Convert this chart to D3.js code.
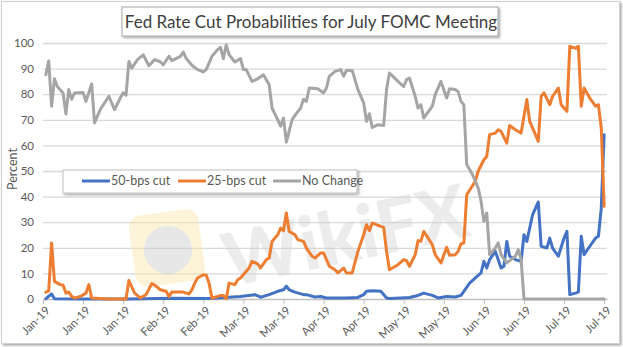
<!DOCTYPE html>
<html>
<head>
<meta charset="utf-8">
<script src="https://cdn.jsdelivr.net/npm/d3@7"></script>
<style>
  body { margin: 0; background: #fff; }
  svg { display: block; font-family: Lato, "Open Sans", sans-serif; }
</style>
</head>
<body>
<svg id="chart" width="623" height="347"></svg>
<script>
/// data ///
// probabilities (percent) for the July meeting outcome, by date
const cut50 = [
  ["01-02", 0.1], ["01-04", 2], ["01-05", 0.1], ["01-16", 0], ["01-31", 0], ["02-15", 0.3],
  ["02-28", 0.2], ["03-11", 1], ["03-16", 1.7], ["03-18", 0.7], ["03-21", 1.7], ["03-24", 3],
  ["03-26", 3.6], ["03-27", 5], ["03-28", 3.6], ["03-30", 2.7], ["04-02", 1.7], ["04-03", 1.7],
  ["04-06", 0.8], ["04-08", 1], ["04-10", 0.4], ["04-17", 0.4], ["04-21", 0.6], ["04-23", 1.7],
  ["04-24", 3], ["04-26", 3.2], ["04-29", 3], ["05-01", 0.4], ["05-02", 0.2], ["05-06", 0.4],
  ["05-09", 0.6], ["05-12", 1.4], ["05-14", 2.3], ["05-17", 1.4], ["05-19", 0.4], ["05-22", 1],
  ["05-25", 0.8], ["05-27", 1.4], ["05-28", 3], ["05-30", 6.2], ["06-02", 9.2], ["06-03", 10.2],
  ["06-04", 14.7], ["06-05", 12.1], ["06-06", 15.4], ["06-08", 18.6], ["06-10", 12.1], ["06-11", 12.8],
  ["06-12", 22.5], ["06-13", 16.7], ["06-15", 15.4], ["06-17", 14.7], ["06-18", 25.1], ["06-19", 22.5],
  ["06-20", 27.7], ["06-21", 32.9], ["06-23", 37.9], ["06-24", 20.6], ["06-26", 19.9], ["06-27", 23.8],
  ["06-28", 19.9], ["06-30", 16.7], ["07-02", 23.8], ["07-03", 26.4], ["07-04", 1.7], ["07-06", 2.3],
  ["07-07", 2.7], ["07-08", 24.5], ["07-09", 17.3], ["07-11", 20.6], ["07-13", 23.8], ["07-14", 24.5],
  ["07-15", 35.5], ["07-16", 64.2]
];

const cut25 = [
  ["01-02", 2.7], ["01-03", 3.2], ["01-04", 21.9], ["01-05", 6.9], ["01-07", 5.6], ["01-08", 5.5],
  ["01-09", 2.3], ["01-10", 2.7], ["01-11", 1], ["01-12", 0.4], ["01-14", 1], ["01-16", 2.3],
  ["01-17", 5.6], ["01-18", 0.4], ["01-24", 0], ["01-30", 0], ["01-31", 7.2], ["02-02", 2.3],
  ["02-04", 0.4], ["02-06", 1.7], ["02-08", 6], ["02-09", 5.4], ["02-11", 3.6], ["02-13", 3],
  ["02-14", 1], ["02-15", 2.7], ["02-19", 2.7], ["02-20", 2.3], ["02-21", 2], ["02-22", 3.6],
  ["02-23", 6.2], ["02-24", 8.2], ["02-26", 9.5], ["02-27", 9.4], ["02-28", 6.2], ["03-01", 0.4],
  ["03-03", 1], ["03-04", 1.4], ["03-05", 1.4], ["03-06", 0.1], ["03-07", 6.2], ["03-09", 5.6],
  ["03-10", 7.5], ["03-11", 8.2], ["03-13", 10.8], ["03-14", 12.1], ["03-15", 14.7], ["03-17", 13.7],
  ["03-18", 12.1], ["03-20", 15.4], ["03-21", 16], ["03-22", 22.5], ["03-24", 25.1], ["03-25", 27.7],
  ["03-26", 26.7], ["03-27", 33.6], ["03-28", 26.4], ["03-30", 25.1], ["03-31", 23.2], ["04-02", 22.5],
  ["04-03", 19.9], ["04-05", 16.7], ["04-06", 16], ["04-08", 18], ["04-09", 18], ["04-11", 12.8],
  ["04-13", 11.4], ["04-14", 10.2], ["04-16", 12.1], ["04-17", 10.2], ["04-19", 10.2], ["04-21", 18.6],
  ["04-23", 25.1], ["04-24", 29], ["04-25", 26.7], ["04-26", 29.7], ["04-28", 28.8], ["04-29", 28.4],
  ["04-30", 28], ["05-01", 18.6], ["05-02", 11.4], ["05-05", 13.4], ["05-07", 15.4], ["05-08", 15],
  ["05-09", 12.8], ["05-11", 17.3], ["05-12", 22.8], ["05-13", 22.5], ["05-14", 26.4], ["05-17", 21.2],
  ["05-18", 17.3], ["05-20", 14.1], ["05-22", 20.2], ["05-23", 17.1], ["05-25", 17.3], ["05-26", 18.6],
  ["05-27", 21.5], ["05-28", 21.9], ["05-29", 40.7], ["06-01", 46], ["06-02", 49.9], ["06-04", 54.4],
  ["06-05", 55.7], ["06-06", 64.2], ["06-08", 64.8], ["06-09", 66.1], ["06-10", 65.5], ["06-12", 60.9],
  ["06-13", 67.8], ["06-15", 66.1], ["06-17", 64.8], ["06-19", 77.9], ["06-20", 69.4], ["06-23", 61.6],
  ["06-24", 79.2], ["06-25", 80.5], ["06-27", 75.9], ["06-28", 79.2], ["06-30", 82.4], ["07-01", 75.9],
  ["07-03", 73.3], ["07-04", 98.7], ["07-06", 98], ["07-07", 98.7], ["07-08", 75.3], ["07-09", 82.4],
  ["07-11", 78.5], ["07-13", 75.3], ["07-14", 75.9], ["07-15", 66.8], ["07-16", 36.2]
];

const noChange = [
  ["01-02", 87.6], ["01-03", 93], ["01-04", 75.3], ["01-05", 86], ["01-06", 83], ["01-08", 80.5],
  ["01-09", 72.3], ["01-10", 81.8], ["01-11", 78], ["01-12", 80.5], ["01-15", 80.7], ["01-16", 77.2],
  ["01-18", 84], ["01-19", 68.8], ["01-21", 74], ["01-24", 79.2], ["01-26", 74], ["01-28", 78.5],
  ["01-29", 80.5], ["01-30", 79.6], ["01-31", 92.8], ["02-01", 90.2], ["02-03", 93.5], ["02-05", 95.4],
  ["02-07", 91.1], ["02-09", 93.5], ["02-11", 92.6], ["02-12", 91.5], ["02-14", 94.8], ["02-15", 93.1],
  ["02-18", 94.8], ["02-19", 96.5], ["02-20", 94], ["02-22", 91.3], ["02-24", 89.6], ["02-26", 88.7],
  ["02-27", 89.6], ["03-01", 94.8], ["03-03", 97.4], ["03-04", 98.3], ["03-05", 93.9], ["03-06", 99.3],
  ["03-07", 95.4], ["03-09", 92.6], ["03-11", 93.9], ["03-12", 89.6], ["03-13", 89.6], ["03-15", 85],
  ["03-17", 86], ["03-19", 87.6], ["03-21", 83.7], ["03-22", 74.6], ["03-24", 70], ["03-25", 67.5],
  ["03-26", 70.7], ["03-27", 61.3], ["03-29", 70], ["03-30", 71.7], ["04-01", 74.6], ["04-02", 78],
  ["04-03", 77.2], ["04-04", 82.4], ["04-07", 82.1], ["04-09", 80.5], ["04-10", 82.4], ["04-11", 87],
  ["04-13", 88.9], ["04-15", 89.6], ["04-16", 87], ["04-17", 89.3], ["04-19", 89.3], ["04-21", 81.8],
  ["04-23", 76.6], ["04-24", 69.4], ["04-25", 72.3], ["04-26", 67], ["04-28", 68.1], ["04-30", 67.8],
  ["05-01", 81.8], ["05-02", 88.3], ["05-05", 85], ["05-07", 83], ["05-08", 85.7], ["05-09", 86.3],
  ["05-11", 79.2], ["05-12", 74.6], ["05-13", 75.9], ["05-14", 70.7], ["05-17", 75.3], ["05-18", 79.8],
  ["05-20", 85], ["05-22", 78.5], ["05-23", 82.1], ["05-25", 81.8], ["05-26", 81], ["05-27", 77.2],
  ["05-28", 75.9], ["05-29", 52.5], ["05-31", 48.6], ["06-02", 43.4], ["06-03", 38.2], ["06-04", 30.4],
  ["06-05", 33.6], ["06-06", 17.3], ["06-08", 19.9], ["06-09", 21.9], ["06-10", 17.3], ["06-12", 14.1],
  ["06-15", 16.7], ["06-16", 19.3], ["06-17", 15.4], ["06-18", 0], ["06-25", 0], ["07-02", 0],
  ["07-09", 0], ["07-16", 0]
];

const seriesNames = ["50-bps cut", "25-bps cut", "No Change"];
const yTicks = [0, 10, 20, 30, 40, 50, 60, 70, 80, 90, 100];
const xTicks = ["01-01", "01-15", "01-29", "02-12", "02-26", "03-12", "03-26", "04-09",
  "04-23", "05-07", "05-21", "06-04", "06-18", "07-02", "07-16"];

/// constants ///
const width = 623;
const height = 347;
const margin = {top: 43, bottom: 48, right: 16, left: 43};
const colours = ["#4472c4", "#ed7d31", "#a5a5a5"];
const gridColour = "#d9d9d9";
const textColour = "#595959";

const parseDate = s => d3.timeParse("%Y-%m-%d")("2019-" + s);

const series = [cut50, cut25, noChange].map((rows, i) => ({
  name: seriesNames[i],
  colour: colours[i],
  values: rows.map(([d, v]) => ({date: parseDate(d), value: v}))
}));

const svg = d3.select("#chart");

// soft shadow used by the frame, title and legend boxes
const defs = svg.append("defs");
const shadow = defs.append("filter").attr("id", "shadow")
  .attr("x", "-10%").attr("y", "-20%").attr("width", "130%").attr("height", "160%");
shadow.append("feDropShadow")
  .attr("dx", 1.5).attr("dy", 1.5).attr("stdDeviation", 1.3)
  .attr("flood-color", "#000").attr("flood-opacity", 0.35);

// outer chart frame
svg.append("rect")
  .attr("x", 1.5).attr("y", 1.5)
  .attr("width", width - 5).attr("height", height - 5)
  .attr("fill", "#fff")
  .attr("stroke", "#d0d0d0")
  .attr("filter", "url(#shadow)");

/// scales ///
const x = d3.scaleTime()
  .domain([parseDate("01-01"), parseDate("07-17")])
  .range([margin.left, width - margin.right]);

const y = d3.scaleLinear()
  .domain([0, 100])
  .range([height - margin.bottom, margin.top]);

/// gridlines ///
svg.append("g")
  .selectAll("line")
  .data(yTicks.filter(d => d > 0))
  .join("line")
    .attr("x1", margin.left)
    .attr("x2", width - margin.right)
    .attr("y1", d => y(d) + 0.5)
    .attr("y2", d => y(d) + 0.5)
    .attr("stroke", gridColour)
    .attr("stroke-width", 1.3);

/// watermark ///
const mark = svg.append("g").attr("opacity", 0.4);
mark.append("rect")
  .attr("x", 132).attr("y", 212).attr("width", 70).attr("height", 72).attr("rx", 12)
  .attr("fill", "#fbe3a0")
  .attr("transform", "rotate(-8, 167, 248)");
mark.append("circle")
  .attr("cx", 168).attr("cy", 250).attr("r", 24)
  .attr("fill", "#c4c4c4");
mark.append("text")
  .attr("x", 345).attr("y", 262)
  .attr("text-anchor", "middle")
  .attr("font-size", 74)
  .attr("font-weight", 900)
  .attr("fill", "#d0d0d0")
  .attr("transform", "rotate(-12, 345, 235)")
  .text("WikiFX");

/// axes ///
// y axis: labels only
const yAxis = g => g
  .attr("transform", `translate(${margin.left}, 0)`)
  .call(d3.axisLeft(y).tickValues(yTicks).tickSize(0).tickPadding(9))
  .call(g => g.select(".domain").remove())
  .call(g => g.selectAll("text")
    .attr("fill", textColour)
    .attr("font-size", "11.5px")
    .attr("font-family", "Lato, sans-serif"));

// x axis: dates every two weeks, rotated labels
const xAxis = g => g
  .attr("transform", `translate(0, ${y(0)})`)
  .call(d3.axisBottom(x)
    .tickValues(xTicks.map(parseDate))
    .tickFormat(d3.timeFormat("%b-%y"))
    .tickSize(5)
    .tickSizeOuter(0))
  .call(g => g.select(".domain").attr("stroke", "#bfbfbf").attr("stroke-width", 1.3))
  .call(g => g.selectAll(".tick line").attr("stroke", "#bfbfbf"))
  .call(g => g.selectAll("text")
    .attr("fill", textColour)
    .attr("font-size", "11.5px")
    .attr("font-family", "Lato, sans-serif")
    .style("text-anchor", "end")
    .attr("dx", "-0.3em")
    .attr("dy", "0.5em")
    .attr("transform", "rotate(-45)"));

svg.append("g").call(yAxis);
svg.append("g").call(xAxis);

// y axis title
svg.append("text")
  .attr("transform", `translate(13, ${y(50) - 2}) rotate(-90)`)
  .attr("text-anchor", "middle")
  .attr("dy", "0.35em")
  .attr("font-size", "12.5px")
  .attr("fill", textColour)
  .text("Percent");

/// lines ///
const line = d3.line()
  .x(d => x(d.date))
  .y(d => y(d.value));

svg.append("g")
  .selectAll("path")
  .data(series)
  .join("path")
    .attr("d", d => line(d.values))
    .attr("fill", "none")
    .attr("stroke", d => d.colour)
    .attr("stroke-width", 3)
    .attr("stroke-linejoin", "round")
    .attr("stroke-linecap", "round");

/// legend ///
const legend = svg.append("g");
legend.append("rect")
  .attr("x", 63).attr("y", 170).attr("width", 294).attr("height", 23)
  .attr("fill", "#fff")
  .attr("stroke", "#bfbfbf")
  .attr("filter", "url(#shadow)");

const legendX = [82, 178, 273];
const legendItem = legend.selectAll(".legend-item")
  .data(series)
  .join("g")
  .classed("legend-item", true)
  .attr("transform", (d, i) => `translate(${legendX[i]}, 181)`);

legendItem.append("line")
  .attr("x1", 0).attr("x2", 28)
  .attr("stroke", d => d.colour)
  .attr("stroke-width", 3);

legendItem.append("text")
  .attr("x", 29)
  .attr("dy", "0.35em")
  .attr("font-size", "12.5px")
  .attr("fill", textColour)
  .text(d => d.name);

/// title ///
svg.append("rect")
  .attr("x", 122).attr("y", 7).attr("width", 376).attr("height", 29)
  .attr("fill", "#fff")
  .attr("stroke", "#a6a6a6")
  .attr("filter", "url(#shadow)");

svg.append("text")
  .attr("x", 311).attr("y", 22)
  .attr("text-anchor", "middle")
  .attr("dy", "0.35em")
  .attr("font-size", "17px")
  .attr("fill", "#404040")
  .text("Fed Rate Cut Probabilities for July FOMC Meeting");
</script>
</body>
</html>
